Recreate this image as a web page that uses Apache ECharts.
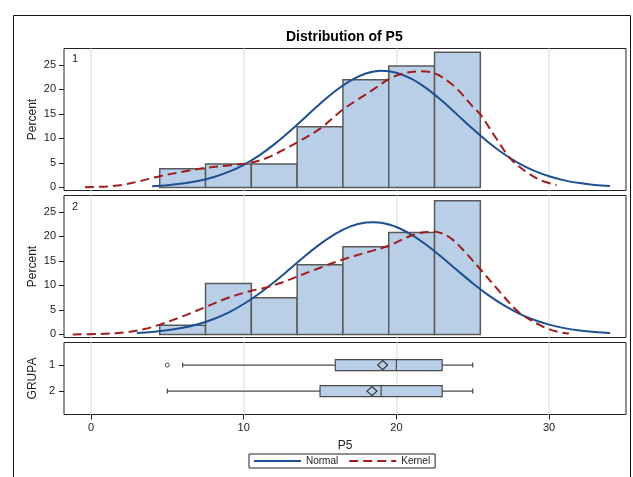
<!DOCTYPE html>
<html>
<head>
<meta charset="utf-8">
<script src="https://cdn.jsdelivr.net/npm/echarts@6/dist/echarts.min.js"></script>
<style>
  html, body { margin: 0; padding: 0; background: #fff; }
  #chart { width: 633px; height: 477px; }
</style>
</head>
<body>
<div id="chart"></div>
<script>
// Histogram bins (midpoints, width) and percentages for each group
const binMid = [6, 9, 12, 15, 18, 21, 24];
const binWidth = 3;
const pctGroup1 = [3.8, 4.8, 4.8, 12.4, 22.0, 24.8, 27.6];
const pctGroup2 = [1.9, 10.4, 7.5, 14.2, 17.9, 20.8, 27.3];

// Fitted normal density curves (percent scale)
const normX1 = [4, 5, 6, 7, 8, 9, 10, 11, 12, 13, 14, 15, 16, 17, 18, 19, 20, 21, 22, 23, 24, 25, 26, 27, 28, 29, 30, 31, 32, 33, 34];
const normY1 = [0.26, 0.47, 0.80, 1.32, 2.09, 3.17, 4.63, 6.51, 8.79, 11.41, 14.23, 17.07, 19.68, 21.81, 23.24, 23.80, 23.42, 22.16, 20.16, 17.62, 14.81, 11.96, 9.29, 6.93, 4.97, 3.43, 2.28, 1.45, 0.89, 0.52, 0.30];
const normX2 = [3, 4, 5, 6, 7, 8, 9, 10, 11, 12, 13, 14, 15, 16, 17, 18, 18.5, 19, 20, 21, 22, 23, 24, 25, 26, 27, 28, 29, 30, 31, 32, 33, 34];
const normY2 = [0.29, 0.50, 0.84, 1.35, 2.09, 3.11, 4.47, 6.21, 8.31, 10.71, 13.30, 15.95, 18.42, 20.52, 22.04, 22.82, 22.90, 22.77, 21.92, 20.33, 18.19, 15.69, 13.04, 10.46, 8.08, 6.02, 4.32, 3.00, 2.00, 1.29, 0.80, 0.48, 0.28];

// Kernel density estimates (percent scale)
const kernX1 = [-0.4, 1, 2, 3.2, 4.5, 6, 7.5, 9, 10.4, 11.5, 12.5, 13.5, 15, 16.5, 17.5, 18.5, 19.5, 20.5, 21.6, 22.5, 23.5, 24.1, 25, 25.5, 26.5, 27.5, 28.6, 29.5, 30.5];
const kernY1 = [0.05, 0.2, 0.5, 1.3, 2.3, 3.2, 4.0, 4.5, 5.0, 6.0, 7.5, 9.2, 12.0, 15.9, 18.0, 20.0, 22.1, 23.3, 23.7, 23.3, 21.4, 19.7, 16.5, 14.9, 10.2, 5.8, 3.0, 1.4, 0.5];
const kernX2 = [-1.2, 0.5, 2.3, 3.5, 4.5, 6, 7.5, 9, 10.5, 11.5, 12.5, 13.5, 15, 16.5, 18, 19.5, 21, 22.3, 23, 23.7, 24.5, 25.5, 26.8, 28, 29.4, 30.5, 31.3];
const kernY2 = [0.0, 0.1, 0.45, 1.1, 2.0, 3.7, 5.6, 7.5, 8.9, 9.6, 10.6, 11.8, 13.6, 15.3, 16.7, 18.1, 20.2, 21.0, 20.6, 19.3, 16.8, 13.3, 8.6, 4.6, 1.9, 0.6, 0.2];

// Box plot summaries: group, min whisker, Q1, median, Q3, max whisker, mean
const groups = ['1', '2'];
const boxStats = [
  [1, 6, 16, 20, 23, 25, 19.1],
  [2, 5, 15, 19, 23, 25, 18.4]
];
const outliers = [[5, 1]];

const xTicks = [0, 10, 20, 30];
const yTicks = [0, 5, 10, 15, 20, 25];

const FONT = "'Liberation Sans', Arial, sans-serif";
const TXT = '#222';
const BAR_FILL = '#B9CFE7';
const BAR_EDGE = '#5a5a5a';
const BLUE = '#1D4F93';
const RED = '#A01D1D';

const pairs = (xs, ys) => xs.map((x, i) => [x, ys[i]]);

const xRange = { min: -1.77, max: 35.04 };
const yRange = { min: -0.62, max: 28.35 };

function panelX(idx, showLabels) {
  return {
    gridIndex: idx, type: 'value', min: xRange.min, max: xRange.max,
    axisLine: { show: false, onZero: false },
    axisTick: { show: showLabels, customValues: xTicks, length: 5, lineStyle: { color: TXT } },
    axisLabel: { show: showLabels, customValues: xTicks, margin: 8, fontSize: 11, color: TXT, fontFamily: FONT },
    splitLine: { show: true, lineStyle: { color: '#e6e6e6', width: 1.5 } },
    name: showLabels ? 'P5' : '', nameLocation: 'middle', nameGap: 25,
    nameTextStyle: { fontSize: 12, color: TXT, fontFamily: FONT }
  };
}
function panelY(idx) {
  return {
    gridIndex: idx, type: 'value', min: yRange.min, max: yRange.max,
    axisLine: { show: false, onZero: false },
    axisTick: { show: true, customValues: yTicks, length: 5, lineStyle: { color: TXT } },
    axisLabel: { customValues: yTicks, margin: 8, fontSize: 11, color: TXT, fontFamily: FONT },
    splitLine: { show: false },
    name: 'Percent', nameLocation: 'middle', nameGap: 25, nameMoveOverlap: false,
    nameTextStyle: { fontSize: 12, color: TXT, fontFamily: FONT }
  };
}

function histSeries(idx, pct) {
  return {
    type: 'custom', xAxisIndex: idx, yAxisIndex: idx, z: 2,
    data: binMid.map((m, i) => [m, pct[i]]),
    encode: { x: 0, y: 1 },
    renderItem: function (params, api) {
      const mid = api.value(0), h = api.value(1);
      const p0 = api.coord([mid - binWidth / 2, h]);
      const p1 = api.coord([mid + binWidth / 2, 0]);
      return {
        type: 'rect',
        shape: { x: p0[0], y: p0[1], width: p1[0] - p0[0], height: p1[1] - p0[1] },
        style: { fill: BAR_FILL, stroke: BAR_EDGE, lineWidth: 1.5 }
      };
    }
  };
}
function curveSeries(idx, name, data, color, dashed) {
  return {
    name: name, type: 'line', xAxisIndex: idx, yAxisIndex: idx, z: 3,
    data: data, smooth: 0.35, symbol: 'none', showSymbol: false,
    lineStyle: { color: color, width: 2, type: dashed ? [9, 5] : 'solid' },
    itemStyle: { color: color },
    emphasis: { disabled: true }
  };
}

const chart = echarts.init(document.getElementById('chart'), null, { renderer: 'canvas' });

chart.setOption({
  backgroundColor: '#fff',
  animation: false,
  textStyle: { fontFamily: FONT },
  title: {
    text: 'Distribution of P5', left: 281, top: 25,
    textStyle: { fontSize: 14, fontWeight: 'bold', color: '#000', fontFamily: FONT }
  },
  legend: {
    left: 249, top: 454, orient: 'horizontal',
    data: ['Normal', 'Kernel'],
    borderColor: TXT, borderWidth: 1, padding: [2, 5, 2, 4],
    itemWidth: 47, itemHeight: 12, itemGap: 10,
    itemStyle: { opacity: 0 },
    textStyle: { fontSize: 10, color: TXT, fontFamily: FONT }
  },
  grid: [
    { left: 64, top: 48.5, width: 562, height: 142, show: true, borderColor: '#222', borderWidth: 1, backgroundColor: 'transparent' },
    { left: 64, top: 195.5, width: 562, height: 142, show: true, borderColor: '#222', borderWidth: 1, backgroundColor: 'transparent' },
    { left: 64, top: 342.5, width: 562, height: 72, show: true, borderColor: '#222', borderWidth: 1, backgroundColor: 'transparent' }
  ],
  xAxis: [panelX(0, false), panelX(1, false), panelX(2, true)],
  yAxis: [
    panelY(0), panelY(1),
    {
      gridIndex: 2, type: 'value', inverse: true, min: 0.13, max: 2.9,
      axisLine: { show: false, onZero: false },
      axisTick: { show: true, customValues: [1, 2], length: 5, lineStyle: { color: TXT } },
      axisLabel: { customValues: [1, 2], margin: 9, fontSize: 11, color: TXT, fontFamily: FONT,
                   formatter: v => groups[v - 1] },
      splitLine: { show: false },
      name: 'GRUPA', nameLocation: 'middle', nameGap: 25, nameMoveOverlap: false,
      nameTextStyle: { fontSize: 12, color: TXT, fontFamily: FONT }
    }
  ],
  graphic: [
    { type: 'rect', silent: true, shape: { x: 13.5, y: 15.5, width: 617, height: 480 },
      style: { fill: 'none', stroke: '#111', lineWidth: 1 } },
    { type: 'text', left: 72, top: 53, style: { text: '1', fontSize: 11, fill: TXT, fontFamily: FONT } },
    { type: 'text', left: 72, top: 201, style: { text: '2', fontSize: 11, fill: TXT, fontFamily: FONT } }
  ],
  series: [
    histSeries(0, pctGroup1),
    histSeries(1, pctGroup2),
    curveSeries(0, 'Normal', pairs(normX1, normY1), BLUE, false),
    curveSeries(0, 'Kernel', pairs(kernX1, kernY1), RED, true),
    curveSeries(1, 'Normal', pairs(normX2, normY2), BLUE, false),
    curveSeries(1, 'Kernel', pairs(kernX2, kernY2), RED, true),
    {
      type: 'custom', xAxisIndex: 2, yAxisIndex: 2, z: 2,
      data: boxStats,
      encode: { x: [1, 2, 3, 4, 5, 6], y: 0 },
      renderItem: function (params, api) {
        const g = api.value(0);
        const at = d => api.coord([api.value(d), g]);
        const pMin = at(1), pQ1 = at(2), pMed = at(3), pQ3 = at(4), pMax = at(5), pMean = at(6);
        const cy = pMin[1], hh = 5.5, cap = 2.5;
        const edge = { stroke: '#4a4a4a', lineWidth: 1.2 };
        return {
          type: 'group',
          children: [
            { type: 'line', shape: { x1: pMin[0], y1: cy, x2: pMax[0], y2: cy }, style: edge },
            { type: 'line', shape: { x1: pMin[0], y1: cy - cap, x2: pMin[0], y2: cy + cap }, style: edge },
            { type: 'line', shape: { x1: pMax[0], y1: cy - cap, x2: pMax[0], y2: cy + cap }, style: edge },
            { type: 'rect', shape: { x: pQ1[0], y: cy - hh, width: pQ3[0] - pQ1[0], height: 2 * hh },
              style: { fill: BAR_FILL, stroke: '#4a4a4a', lineWidth: 1.2 } },
            { type: 'line', shape: { x1: pMed[0], y1: cy - hh, x2: pMed[0], y2: cy + hh }, style: edge },
            { type: 'polygon',
              shape: { points: [[pMean[0] - 5, cy], [pMean[0], cy - 4.5], [pMean[0] + 5, cy], [pMean[0], cy + 4.5]] },
              style: { fill: BAR_FILL, stroke: '#333', lineWidth: 1.2 } }
          ]
        };
      }
    },
    {
      type: 'scatter', xAxisIndex: 2, yAxisIndex: 2, z: 3,
      data: outliers, symbol: 'circle', symbolSize: 4,
      itemStyle: { color: '#fff', borderColor: '#222', borderWidth: 1 }
    }
  ]
});
</script>
</body>
</html>
